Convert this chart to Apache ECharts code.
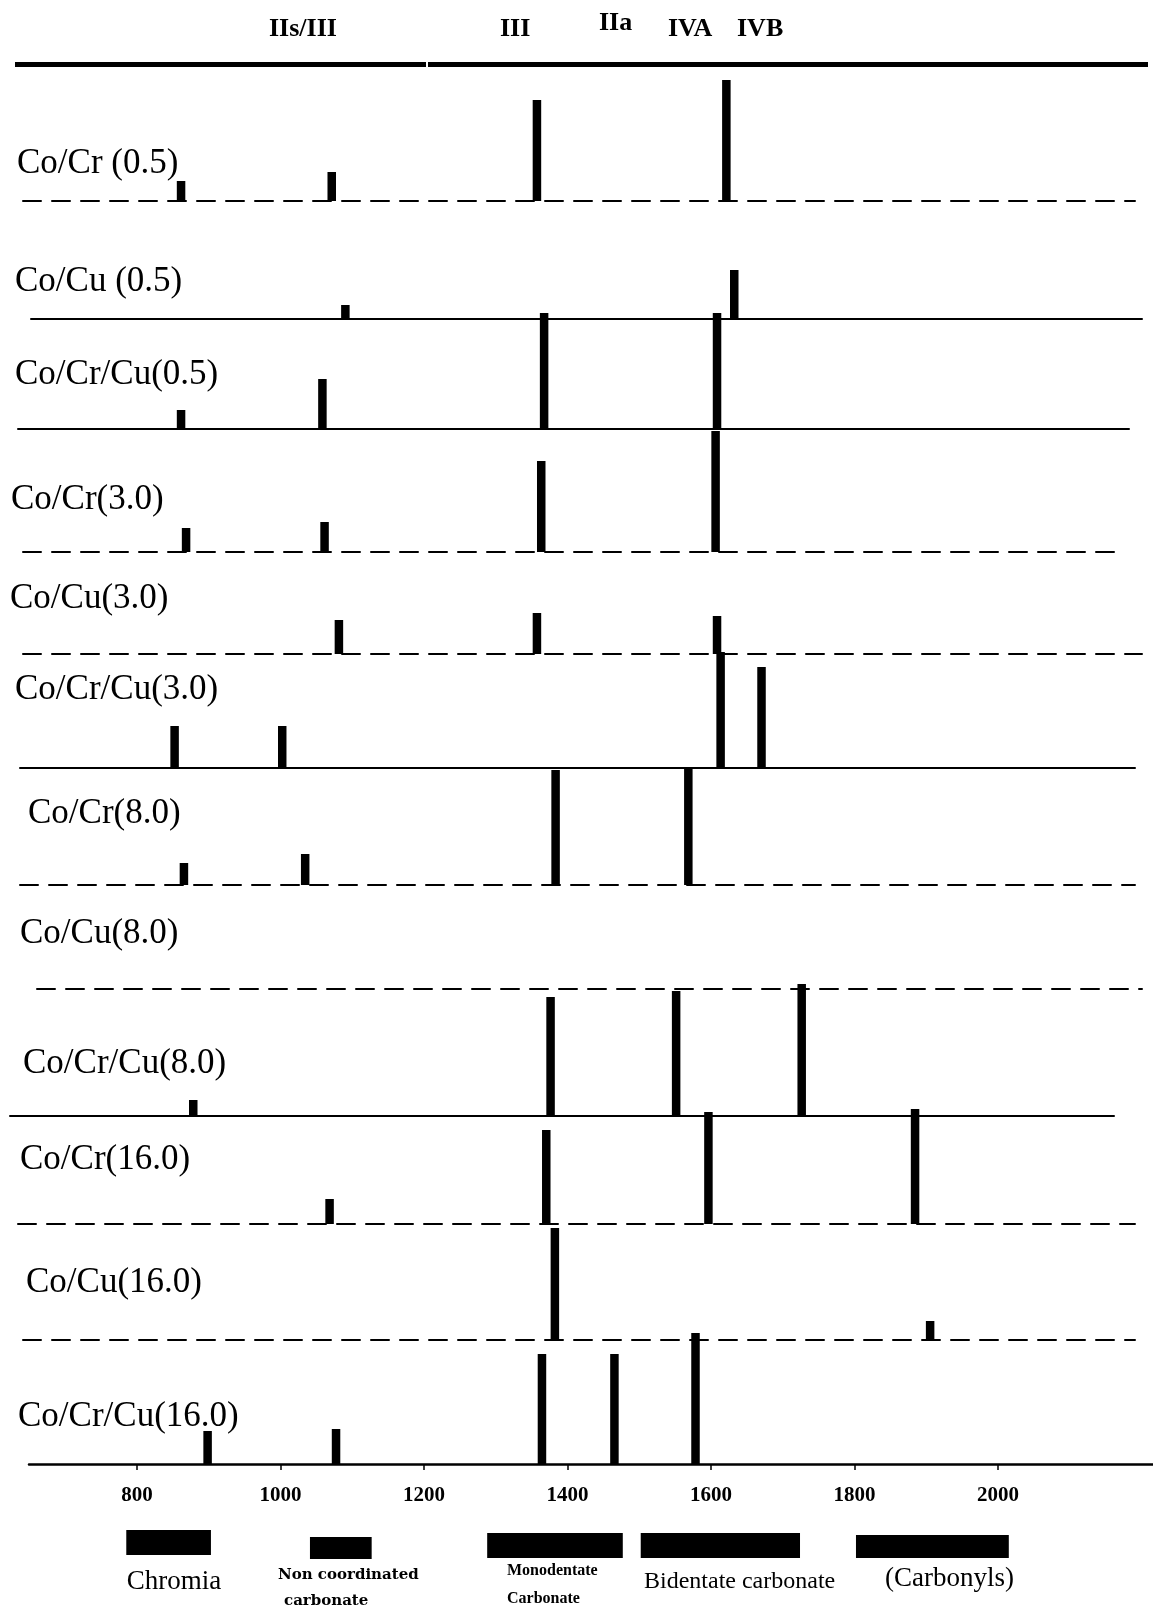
<!DOCTYPE html>
<html>
<head>
<meta charset="utf-8">
<script src="https://cdn.jsdelivr.net/npm/echarts@6/dist/echarts.min.js"></script>
<style>
  html, body { margin: 0; padding: 0; background: #fff; }
  #chart { width: 1153px; height: 1610px; }
</style>
</head>
<body>
<div id="chart"></div>
<script>
// ---- data -------------------------------------------------------------
const samples = [
  'Co/Cr (0.5)', 'Co/Cu (0.5)', 'Co/Cr/Cu(0.5)',
  'Co/Cr(3.0)', 'Co/Cu(3.0)', 'Co/Cr/Cu(3.0)',
  'Co/Cr(8.0)', 'Co/Cu(8.0)', 'Co/Cr/Cu(8.0)',
  'Co/Cr(16.0)', 'Co/Cu(16.0)', 'Co/Cr/Cu(16.0)'
];

// band positions (cm-1) for each sample
const peakWavenumbers = [
  [861, 1071, 1357, 1621],
  [1090, 1632],
  [861, 1058, 1367, 1608],
  [868, 1061, 1363, 1606],
  [1081, 1357, 1608],
  [852, 1002, 1613, 1670],
  [865, 1034, 1383, 1568],
  [],
  [878, 1376, 1551, 1726],
  [1068, 1370, 1596, 1884],
  [1382, 1905],
  [898, 1077, 1364, 1465, 1578]
];

// relative band intensities (a.u.)
const peakIntensities = [
  [20, 29, 101, 121],
  [14, 49],
  [19, 50, 116, 116],
  [24, 30, 91, 121],
  [34, 41, 38],
  [42, 42, 116, 101],
  [22, 31, 115, 118],
  [],
  [16, 119, 125, 132],
  [25, 94, 112, 115],
  [112, 19],
  [33, 35, 110, 110, 131]
];

const tickValues = [800, 1000, 1200, 1400, 1600, 1800, 2000];

const speciesLabels = ['IIs/III', 'III', 'IIa', 'IVA', 'IVB'];

const assignmentNames = [
  ['Chromia'],
  ['Non coordinated', 'carbonate'],
  ['Monodentate', 'Carbonate'],
  ['Bidentate carbonate'],
  ['(Carbonyls)']
];
const assignmentRanges = [
  [785, 903], [1041, 1127], [1288, 1477], [1502, 1724], [1802, 2015]
];

// ---- layout -----------------------------------------------------------
const W = 1153;
const WN_AT_LEFT = 609;       // wavenumber at pixel x = 0
const PX_PER_WN = 0.7175;     // horizontal scale shared by every panel
const PANEL_H = 140;          // height of one panel's intensity axis

const baseY = [201, 319, 429, 552, 654, 768, 885, 989, 1116, 1224, 1340, 1464];
const baseSpan = [
  [23, 1135], [31, 1142], [18, 1129], [23, 1124], [23, 1142], [20, 1135],
  [20, 1135], [37, 1142], [10, 1114], [18, 1135], [23, 1135], [29, 1153]
];
const dashedBase = [true, false, false, true, true, false, true, true, false, true, true, false];
const labelPos = [
  [17, 161], [15, 279], [15, 372], [11, 497], [10, 596], [15, 687],
  [28, 811], [20, 931], [23, 1061], [20, 1157], [26, 1280], [18, 1414]
];
const speciesPos = [[269, 29], [500, 29], [599, 23], [668, 29], [737, 29]];
const boxY = [[1530, 1555], [1537, 1559], [1533, 1558], [1533, 1558], [1535, 1558]];
const assignmentTextPos = [
  [[174, 1582, 'center']],
  [[278, 1575, 'left'], [284, 1601, 'left']],
  [[507, 1571, 'left'], [507, 1599, 'left']],
  [[644, 1582, 'left']],
  [[885, 1579, 'left']]
];

const pxToWn = px => WN_AT_LEFT + px / PX_PER_WN;
const SERIF = '"Liberation Serif", "Times New Roman", serif';

const grids = [], xAxes = [], yAxes = [], series = [], graphics = [];
const last = samples.length - 1;

samples.forEach((name, i) => {
  const [l, r] = baseSpan[i];
  grids.push({
    left: l, width: r - l, top: baseY[i] - PANEL_H, height: PANEL_H,
    outerBoundsMode: 'none', containLabel: false
  });
  const isBottom = i === last;
  xAxes.push({
    type: 'value', gridIndex: i,
    min: pxToWn(l), max: pxToWn(r),
    splitLine: { show: false },
    axisLine: {
      show: true, onZero: false,
      lineStyle: {
        color: '#000', width: isBottom ? 2.5 : 2,
        type: dashedBase[i] ? [18, 11] : 'solid'
      }
    },
    axisTick: isBottom
      ? { show: true, length: 6, lineStyle: { color: '#000', width: 1.5 }, customValues: tickValues }
      : { show: false },
    axisLabel: isBottom
      ? { show: true, customValues: tickValues, margin: 21, color: '#000',
          fontFamily: SERIF, fontWeight: 'bold', fontSize: 21,
          formatter: v => String(v) }
      : { show: false }
  });
  yAxes.push({
    type: 'value', gridIndex: i, min: 0, max: PANEL_H, show: false,
    splitLine: { show: false }
  });
  series.push({
    type: 'custom', name, xAxisIndex: i, yAxisIndex: i, clip: false,
    data: peakWavenumbers[i].map((wn, k) => [wn, peakIntensities[i][k]]),
    renderItem: (params, api) => {
      const p0 = api.coord([api.value(0), 0]);
      const p1 = api.coord([api.value(0), api.value(1)]);
      return {
        type: 'rect',
        shape: { x: p0[0] - 4, y: p1[1], width: 8.5, height: p0[1] - p1[1] },
        style: { fill: '#000' }
      };
    },
    silent: true
  });
  graphics.push({
    type: 'text', left: labelPos[i][0], top: labelPos[i][1] - 15,
    style: { text: name, font: `35px ${SERIF}`, fill: '#000' }
  });
});

// assignment bars underneath the wavenumber axis
const bi = samples.length;
grids.push({ left: 0, width: W, top: 1520, height: 50, outerBoundsMode: 'none', containLabel: false });
xAxes.push({ type: 'value', gridIndex: bi, min: pxToWn(0), max: pxToWn(W), show: false });
yAxes.push({ type: 'value', gridIndex: bi, min: 0, max: 1, show: false });
series.push({
  type: 'custom', xAxisIndex: bi, yAxisIndex: bi, clip: false, silent: true,
  data: assignmentRanges.map((r, k) => [r[0], r[1], k]),
  renderItem: (params, api) => {
    const k = api.value(2);
    const a = api.coord([api.value(0), 0]);
    const b = api.coord([api.value(1), 0]);
    return {
      type: 'rect',
      shape: { x: a[0], y: boxY[k][0], width: b[0] - a[0], height: boxY[k][1] - boxY[k][0] },
      style: { fill: '#000' }
    };
  }
});

const assignmentFonts = [
  `27px ${SERIF}`,
  `bold 15px "DejaVu Serif", serif`,
  `bold 16px ${SERIF}`,
  `24px ${SERIF}`,
  `27px ${SERIF}`
];
assignmentNames.forEach((lines, k) => {
  lines.forEach((t, j) => {
    const [x, y, align] = assignmentTextPos[k][j];
    graphics.push({
      type: 'text', x, y,
      style: { text: t, font: assignmentFonts[k], fill: '#000', align, verticalAlign: 'middle' }
    });
  });
});

// species labels above the frame rule
speciesLabels.forEach((t, k) => {
  graphics.push({
    type: 'text', x: speciesPos[k][0], y: speciesPos[k][1],
    style: { text: t, font: `bold 26px ${SERIF}`, fill: '#000', verticalAlign: 'middle' }
  });
});

// heavy rule across the top
graphics.push({ type: 'rect', shape: { x: 15, y: 62, width: 411, height: 5 }, style: { fill: '#000' } });
graphics.push({ type: 'rect', shape: { x: 428, y: 62, width: 720, height: 5 }, style: { fill: '#000' } });

const chart = echarts.init(document.getElementById('chart'), null, { renderer: 'canvas' });
chart.setOption({
  animation: false,
  backgroundColor: '#fff',
  grid: grids,
  xAxis: xAxes,
  yAxis: yAxes,
  series,
  graphic: graphics
});
</script>
</body>
</html>
